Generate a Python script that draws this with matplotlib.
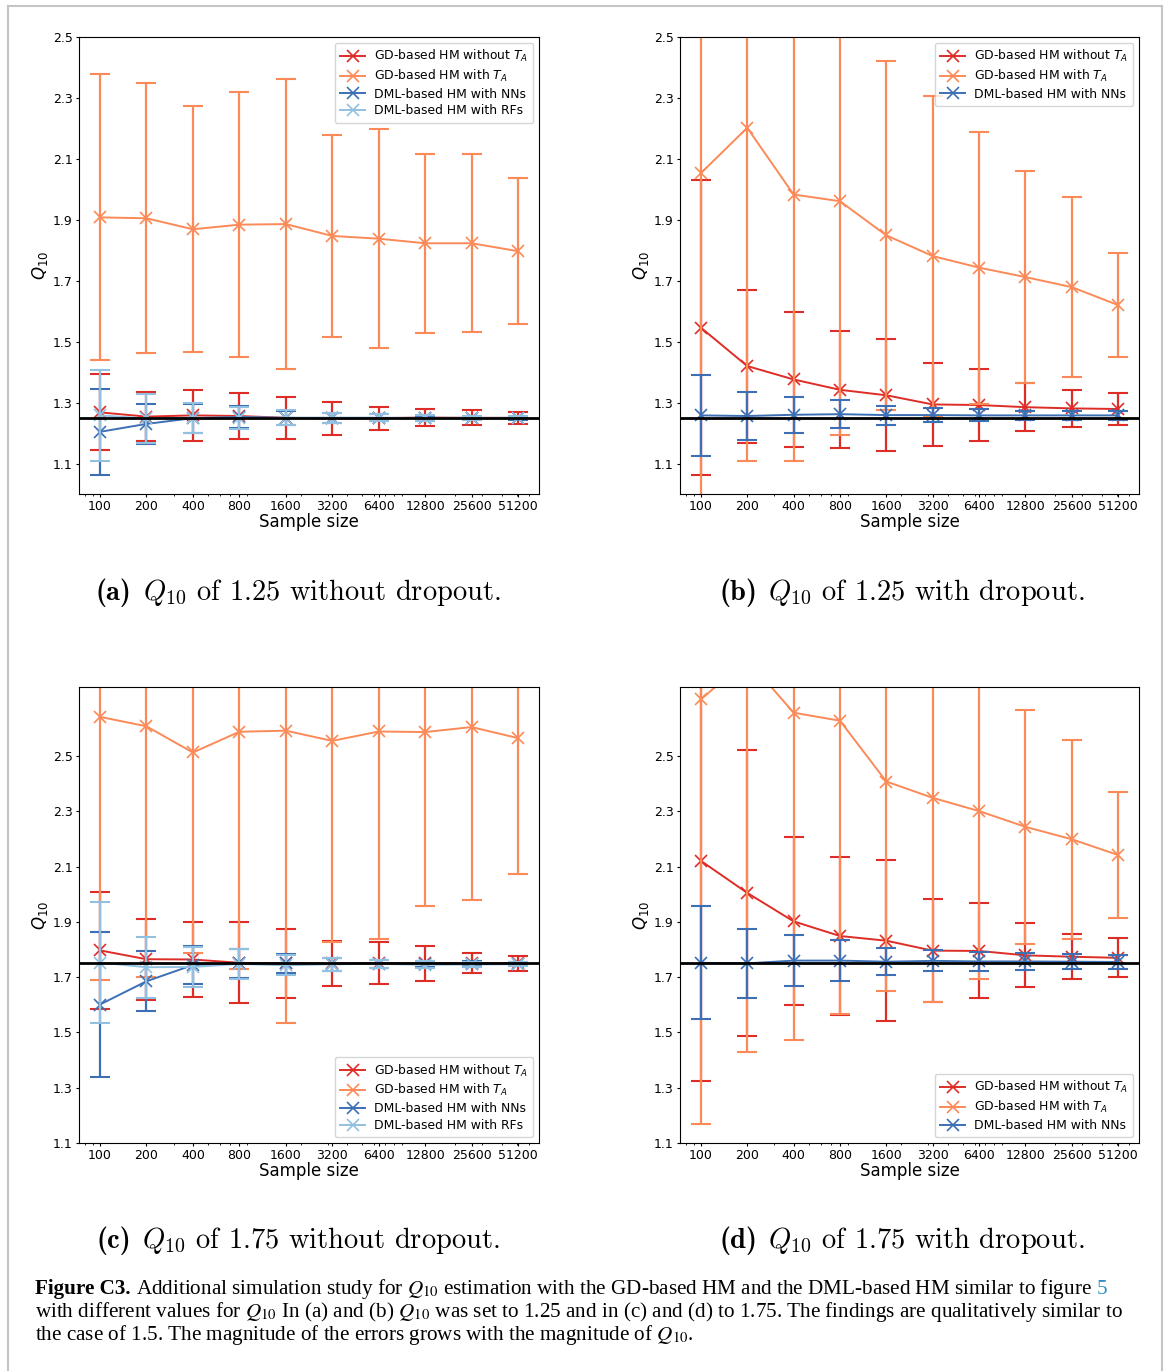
import matplotlib
matplotlib.use("Agg")
import matplotlib.pyplot as plt
from matplotlib.lines import Line2D
from matplotlib.ticker import NullFormatter

W, H = 1167, 1371

sizes = [100, 200, 400, 800, 1600, 3200, 6400, 12800, 25600, 51200]
size_labels = ["100", "200", "400", "800", "1600", "3200", "6400", "12800", "25600", "51200"]
yticks = [1.1, 1.3, 1.5, 1.7, 1.9, 2.1, 2.3, 2.5]

lab_gd_no = r"GD-based HM without $T_A$"
lab_gd_ta = r"GD-based HM with $T_A$"
lab_dml_nn = "DML-based HM with NNs"
lab_dml_rf = "DML-based HM with RFs"

# ---- panel (a): Q10 = 1.25 without dropout
a_gd_no_mean = [1.268, 1.254, 1.258, 1.256, 1.250, 1.248, 1.249, 1.251, 1.250, 1.250]
a_gd_no_sd = [0.125, 0.081, 0.083, 0.075, 0.069, 0.054, 0.038, 0.028, 0.025, 0.019]
a_gd_ta_mean = [1.908, 1.905, 1.869, 1.884, 1.886, 1.847, 1.838, 1.823, 1.823, 1.797]
a_gd_ta_sd = [0.469, 0.443, 0.403, 0.434, 0.475, 0.332, 0.360, 0.294, 0.292, 0.239]
a_nn_mean = [1.204, 1.230, 1.249, 1.253, 1.250, 1.250, 1.250, 1.249, 1.249, 1.249]
a_nn_sd = [0.141, 0.067, 0.048, 0.036, 0.024, 0.016, 0.011, 0.008, 0.006, 0.005]
a_rf_mean = [1.258, 1.248, 1.250, 1.250, 1.250, 1.250, 1.250, 1.250, 1.250, 1.250]
a_rf_sd = [0.150, 0.079, 0.050, 0.036, 0.025, 0.017, 0.012, 0.009, 0.007, 0.005]

# ---- panel (b): Q10 = 1.25 with dropout
b_gd_no_mean = [1.546, 1.420, 1.376, 1.342, 1.324, 1.294, 1.292, 1.285, 1.281, 1.279]
b_gd_no_sd = [0.485, 0.251, 0.223, 0.192, 0.184, 0.137, 0.117, 0.078, 0.060, 0.053]
b_gd_ta_mean = [2.053, 2.202, 1.983, 1.961, 1.849, 1.781, 1.743, 1.712, 1.679, 1.620]
b_gd_ta_sd = [1.100, 1.093, 0.874, 0.766, 0.573, 0.524, 0.446, 0.347, 0.296, 0.170]
b_nn_mean = [1.258, 1.256, 1.260, 1.262, 1.259, 1.259, 1.258, 1.258, 1.258, 1.258]
b_nn_sd = [0.134, 0.080, 0.060, 0.046, 0.031, 0.023, 0.020, 0.016, 0.015, 0.016]

# ---- panel (c): Q10 = 1.75 without dropout
c_gd_no_mean = [1.797, 1.765, 1.764, 1.752, 1.750, 1.750, 1.751, 1.750, 1.750, 1.750]
c_gd_no_sd = [0.213, 0.146, 0.134, 0.146, 0.126, 0.082, 0.077, 0.064, 0.036, 0.026]
c_gd_ta_mean = [2.642, 2.608, 2.513, 2.588, 2.592, 2.555, 2.589, 2.587, 2.605, 2.565]
c_gd_ta_sd = [0.952, 0.907, 0.727, 0.859, 1.059, 0.727, 0.750, 0.629, 0.624, 0.493]
c_nn_mean = [1.601, 1.685, 1.744, 1.750, 1.750, 1.747, 1.749, 1.749, 1.749, 1.749]
c_nn_sd = [0.263, 0.109, 0.070, 0.052, 0.034, 0.024, 0.014, 0.011, 0.008, 0.006]
c_rf_mean = [1.753, 1.736, 1.737, 1.748, 1.743, 1.747, 1.748, 1.745, 1.746, 1.747]
c_rf_sd = [0.220, 0.110, 0.074, 0.054, 0.036, 0.023, 0.014, 0.012, 0.009, 0.007]

# ---- panel (d): Q10 = 1.75 with dropout
d_gd_no_mean = [2.121, 2.005, 1.902, 1.849, 1.832, 1.796, 1.795, 1.779, 1.774, 1.770]
d_gd_no_sd = [0.798, 0.517, 0.304, 0.286, 0.292, 0.187, 0.172, 0.116, 0.081, 0.070]
d_gd_ta_mean = [2.705, 2.850, 2.657, 2.628, 2.408, 2.349, 2.301, 2.244, 2.199, 2.142]
d_gd_ta_sd = [1.538, 1.420, 1.186, 1.063, 0.759, 0.738, 0.608, 0.424, 0.361, 0.227]
d_nn_mean = [1.752, 1.750, 1.760, 1.760, 1.756, 1.759, 1.757, 1.757, 1.756, 1.755]
d_nn_sd = [0.205, 0.124, 0.091, 0.073, 0.049, 0.038, 0.034, 0.032, 0.028, 0.026]

C_RED = "#de2d26"
C_ORANGE = "#fb8a58"
C_BLUE = "#3c6fb4"
C_LBLUE = "#92c0e0"

fig = plt.figure(figsize=(W / 100, H / 100), dpi=100)
fig.patch.set_facecolor("white")
renderer = fig.canvas.get_renderer()


def px_rect(left, top, right, bottom):
    return [left / W, 1 - bottom / H, (right - left) / W, (bottom - top) / H]


def panel(rect, series, truth, ylim, legend_loc):
    ax = fig.add_axes(rect)
    for label, mean, sd, color in series:
        ax.plot(sizes, mean, color=color, marker="x", ms=9, mew=1.2, lw=1.4, label=label)
        ax.errorbar(sizes, mean, yerr=sd, fmt="none", ecolor=color,
                    elinewidth=1.6, capsize=7.2, capthick=1.5)
    ax.axhline(truth, color="black", lw=2.0)
    ax.set_xscale("log")
    ax.set_xticks(sizes)
    ax.set_xticklabels(size_labels)
    ax.xaxis.set_minor_formatter(NullFormatter())
    ax.set_yticks(yticks)
    ax.set_ylim(ylim)
    ax.set_xlabel("Sample size", fontsize=12, labelpad=0)
    ax.set_ylabel(r"$Q_{10}$", fontsize=12, labelpad=2)
    ax.tick_params(which="major", labelsize=9, length=2.5, pad=2.0)
    ax.tick_params(which="minor", length=1.5)
    ax.legend(loc=legend_loc, fontsize=8.9, handlelength=2.0, markerscale=1.0,
              borderaxespad=0.45, labelspacing=0.3, handletextpad=0.7,
              borderpad=0.45)
    return ax


panel(px_rect(79, 37, 539, 494),
      [(lab_gd_no, a_gd_no_mean, a_gd_no_sd, C_RED),
       (lab_gd_ta, a_gd_ta_mean, a_gd_ta_sd, C_ORANGE),
       (lab_dml_nn, a_nn_mean, a_nn_sd, C_BLUE),
       (lab_dml_rf, a_rf_mean, a_rf_sd, C_LBLUE)],
      1.25, (1.0, 2.5), "upper right")

panel(px_rect(680, 37, 1139, 494),
      [(lab_gd_no, b_gd_no_mean, b_gd_no_sd, C_RED),
       (lab_gd_ta, b_gd_ta_mean, b_gd_ta_sd, C_ORANGE),
       (lab_dml_nn, b_nn_mean, b_nn_sd, C_BLUE)],
      1.25, (1.0, 2.5), "upper right")

panel(px_rect(79, 687, 539, 1143),
      [(lab_gd_no, c_gd_no_mean, c_gd_no_sd, C_RED),
       (lab_gd_ta, c_gd_ta_mean, c_gd_ta_sd, C_ORANGE),
       (lab_dml_nn, c_nn_mean, c_nn_sd, C_BLUE),
       (lab_dml_rf, c_rf_mean, c_rf_sd, C_LBLUE)],
      1.75, (1.1, 2.75), "lower right")

panel(px_rect(680, 687, 1139, 1143),
      [(lab_gd_no, d_gd_no_mean, d_gd_no_sd, C_RED),
       (lab_gd_ta, d_gd_ta_mean, d_gd_ta_sd, C_ORANGE),
       (lab_dml_nn, d_nn_mean, d_nn_sd, C_BLUE)],
      1.75, (1.1, 2.75), "lower right")


def draw_pieces(x_px, y_px, pieces, gap_px, center=False):
    """Place text pieces one after another on a common baseline."""
    texts = []
    x = x_px
    for s, kw in pieces:
        t = fig.text(x / W, 1 - y_px / H, s, ha="left", va="baseline", **kw)
        bb = t.get_window_extent(renderer=renderer)
        texts.append(t)
        x = bb.x1 + gap_px
    if center:
        total = (x - gap_px) - x_px
        shift = total / 2.0
        for t in texts:
            px, py = t.get_position()
            t.set_position((px - shift / W, py))
    return texts


# sub-captions
SUB_FS = 20.5
sub_gap = 0.4 * SUB_FS * 100 / 72
subcaps = [
    (298, 600, "(a)", r"$Q_{10}$ of 1.25 without dropout."),
    (902, 600, "(b)", r"$Q_{10}$ of 1.25 with dropout."),
    (298, 1248, "(c)", r"$Q_{10}$ of 1.75 without dropout."),
    (902, 1248, "(d)", r"$Q_{10}$ of 1.75 with dropout."),
]
for x, y, tag, s in subcaps:
    draw_pieces(x, y, [
        (tag, dict(fontsize=SUB_FS, family="cmb10")),
        (s, dict(fontsize=SUB_FS, family="cmr10", math_fontfamily="cm")),
    ], sub_gap, center=True)

# page border (left, top, right)
bc = "#c4c4c4"
fig.add_artist(Line2D([8 / W, 8 / W], [0, 1 - 6 / H], color=bc, lw=1.5, transform=fig.transFigure))
fig.add_artist(Line2D([8 / W, 1162 / W], [1 - 6 / H, 1 - 6 / H], color=bc, lw=1.5, transform=fig.transFigure))
fig.add_artist(Line2D([1162 / W, 1162 / W], [0, 1 - 6 / H], color=bc, lw=1.5, transform=fig.transFigure))

# figure caption
CAP_FS = 15.2
cap_kw = dict(fontsize=CAP_FS, family="Liberation Serif", math_fontfamily="stix")
space_px = 0.25 * CAP_FS * 100 / 72

draw_pieces(35, 1294, [
    ("Figure C3.", dict(cap_kw, weight="bold")),
    (r"Additional simulation study for $Q_{10}$ estimation with the GD-based HM and the DML-based HM similar to figure", cap_kw),
    ("5", dict(cap_kw, color="#2a8fc6")),
], space_px)
draw_pieces(35, 1317, [
    (r"with different values for $Q_{10}$ In (a) and (b) $Q_{10}$ was set to 1.25 and in (c) and (d) to 1.75. The findings are qualitatively similar to", cap_kw),
], space_px)
draw_pieces(35, 1340, [
    (r"the case of 1.5. The magnitude of the errors grows with the magnitude of $Q_{10}$.", cap_kw),
], space_px)

fig.savefig("out.png", dpi=100, facecolor="white")
